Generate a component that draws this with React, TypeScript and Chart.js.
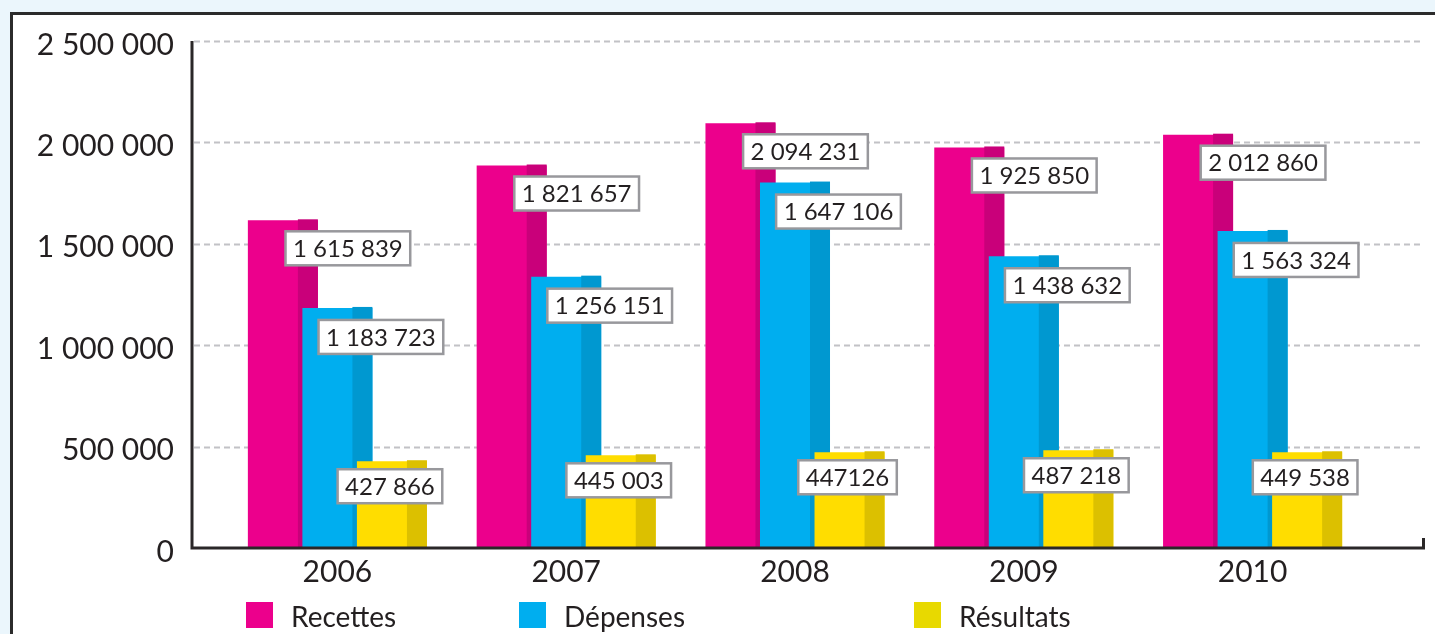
import React, { useEffect, useRef } from 'react';
import { Chart, registerables } from 'chart.js';

Chart.register(...registerables);

const years = ['2006', '2007', '2008', '2009', '2010'];
const seriesNames = ['Recettes', 'Dépenses', 'Résultats'];
// bar heights as drawn in the picture
const recettes = [1615839, 1886000, 2094231, 1975000, 2038000];
const depenses = [1183723, 1338000, 1802000, 1438632, 1563324];
const resultats = [427866, 457000, 472000, 482000, 472000];
// printed value labels
const recettesLabels = ['1 615 839', '1 821 657', '2 094 231', '1 925 850', '2 012 860'];
const depensesLabels = ['1 183 723', '1 256 151', '1 647 106', '1 438 632', '1 563 324'];
const resultatsLabels = ['427 866', '445 003', '447126', '487 218', '449 538'];
const yTickValues = [0, 500000, 1000000, 1500000, 2000000, 2500000];

const frontColors = ['#ec008c', '#00aeef', '#ffdd00'];
const sideColors = ['#c9007a', '#0098d0', '#dcc000'];
const legendColors = ['#ec008c', '#00aeef', '#e8d900'];

const FONT = 'Lato';
const TEXT = '#231f20';

const fmt = (v: number) => String(v).replace(/\B(?=(\d{3})+(?!\d))/g, ' ');

export default function App() {
  const ref = useRef<HTMLCanvasElement | null>(null);

  useEffect(() => {
    const canvas = ref.current;
    if (!canvas) return;
    const allLabels = [recettesLabels, depensesLabels, resultatsLabels];
    const labelDx = [65, 43.5, -2];
    const labelDy = [28, 29, 25];
    const SIDE = 20;

    const plugin = {
      id: 'custom3d',
      beforeDatasetsDraw(chart: any) {
        const ctx = chart.ctx;
        const y = chart.scales.y;
        // dashed grid lines
        ctx.save();
        ctx.strokeStyle = '#c2c2c6';
        ctx.lineWidth = 2;
        ctx.setLineDash([6, 4]);
        yTickValues.forEach((v) => {
          if (v === 0) return;
          const py = Math.round(y.getPixelForValue(v)) + 0.5;
          ctx.beginPath();
          ctx.moveTo(194, py);
          ctx.lineTo(1422, py);
          ctx.stroke();
        });
        ctx.restore();
        // bars in forward order, with darker side faces
        for (let i = 0; i < chart.data.datasets.length; i++) {
          const meta = chart.getDatasetMeta(i);
          meta.controller.draw();
          ctx.save();
          ctx.fillStyle = sideColors[i];
          meta.data.forEach((el: any) => {
            const right = el.x + el.width / 2;
            ctx.fillRect(right - SIDE, el.y - 1, SIDE, el.base - el.y + 1);
          });
          ctx.restore();
        }
        // axes
        const base = y.getPixelForValue(0);
        ctx.save();
        ctx.strokeStyle = '#2a2728';
        ctx.lineWidth = 3;
        ctx.beginPath();
        ctx.moveTo(192, y.getPixelForValue(2500000));
        ctx.lineTo(192, base);
        ctx.lineTo(1423.5, base);
        ctx.lineTo(1423.5, base - 10);
        ctx.stroke();
        ctx.restore();
        return false;
      },
      afterDraw(chart: any) {
        const ctx = chart.ctx;
        ctx.save();
        ctx.font = `24px ${FONT}`;
        ctx.textAlign = 'center';
        ctx.textBaseline = 'middle';
        for (let i = 0; i < chart.data.datasets.length; i++) {
          const meta = chart.getDatasetMeta(i);
          meta.data.forEach((el: any, j: number) => {
            const txt = allLabels[i][j];
            const tw = ctx.measureText(txt).width;
            const w = tw + 15;
            const h = 34;
            const cx = el.x + labelDx[i];
            const cy = el.y + labelDy[i];
            ctx.fillStyle = '#ffffff';
            ctx.fillRect(cx - w / 2, cy - h / 2, w, h);
            ctx.strokeStyle = '#98989c';
            ctx.lineWidth = 2.5;
            ctx.strokeRect(cx - w / 2, cy - h / 2, w, h);
            ctx.fillStyle = TEXT;
            ctx.fillText(txt, cx, cy + 1);
          });
        }
        // legend
        const lx = [246, 519, 914];
        ctx.font = `28px ${FONT}`;
        ctx.textAlign = 'left';
        ctx.textBaseline = 'alphabetic';
        chart.data.datasets.forEach((ds: any, i: number) => {
          ctx.fillStyle = legendColors[i];
          ctx.fillRect(lx[i], 602, 27, 26);
          ctx.fillStyle = TEXT;
          ctx.fillText(ds.label, lx[i] + 45, 627);
        });
        ctx.restore();
      },
    };

    const chart = new Chart(canvas, {
      type: 'bar',
      data: {
        labels: years,
        datasets: [
          { label: seriesNames[0], data: recettes, backgroundColor: frontColors[0] },
          { label: seriesNames[1], data: depenses, backgroundColor: frontColors[1] },
          { label: seriesNames[2], data: resultats, backgroundColor: frontColors[2] },
        ],
      },
      options: {
        animation: false,
        responsive: false,
        maintainAspectRatio: false,
        layout: { padding: { top: 41, right: 68, bottom: 0, left: 0 } },
        datasets: { bar: { categoryPercentage: 0.715, barPercentage: 1.284 } as any },
        plugins: { legend: { display: false }, tooltip: { enabled: false } },
        scales: {
          x: {
            grid: { display: false, drawTicks: false },
            border: { display: false },
            ticks: { color: TEXT, font: { family: FONT, size: 30 }, padding: 6 },
            afterFit: (s: any) => { s.height = 86; s.paddingLeft = 0; s.paddingRight = 0; },
          },
          y: {
            min: 0,
            max: 2500000,
            grid: { display: false, drawTicks: false },
            border: { display: false },
            ticks: {
              stepSize: 500000,
              padding: 49,
              labelOffset: 4,
              color: TEXT,
              font: { family: FONT, size: 30 },
              callback: (v: any) => fmt(Number(v)),
            },
            afterFit: (s: any) => { s.width = 223; s.paddingTop = 0; s.paddingBottom = 0; },
          },
        },
      },
      plugins: [plugin],
    });

    let alive = true;
    (document as any).fonts?.ready?.then(() => { if (alive) chart.update(); });

    return () => {
      alive = false;
      chart.destroy();
    };
  }, []);

  return (
    <div style={{ position: 'fixed', left: 0, top: 0, width: 1435, height: 634, background: '#ebf6fc', overflow: 'hidden' }}>
      <div style={{ position: 'absolute', left: 10, top: 12, width: 1500, height: 700, background: '#ffffff', border: '3px solid #2b2b2b', boxSizing: 'border-box' }} />
      <canvas ref={ref} width={1435} height={634} style={{ position: 'absolute', left: 0, top: 0, width: 1435, height: 634 }} />
    </div>
  );
}
